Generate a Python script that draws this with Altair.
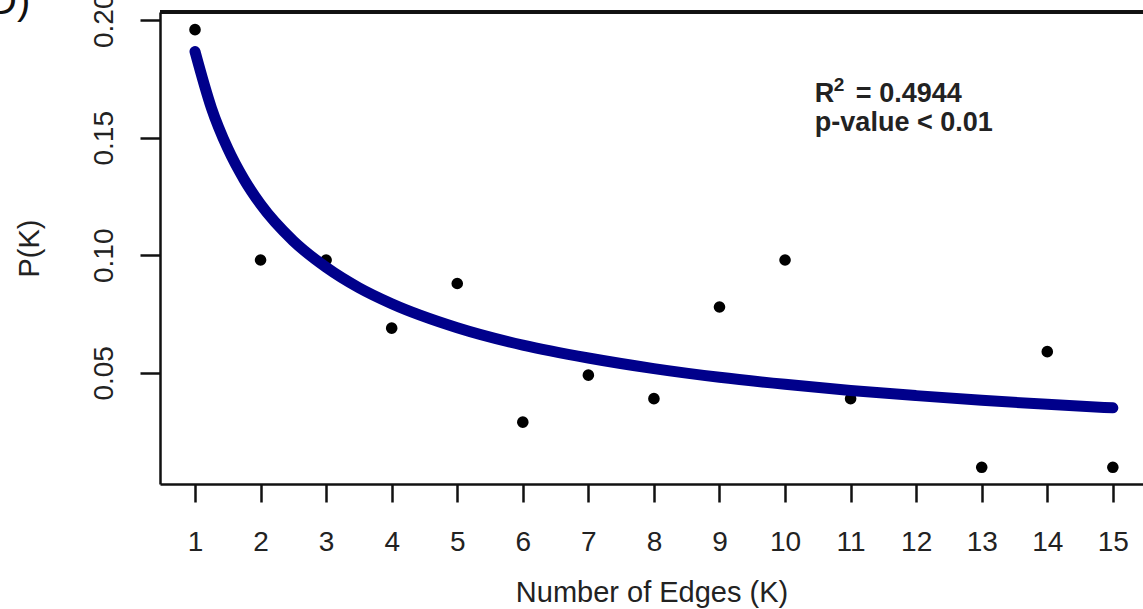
import altair as alt
import pandas as pd

# observed points
k_vals = [1, 2, 3, 4, 5, 6, 7, 8, 9, 10, 11, 13, 14, 15]
p_vals = [0.196, 0.098, 0.098, 0.069, 0.088, 0.029, 0.049, 0.039, 0.078, 0.098, 0.039, 0.0098, 0.059, 0.0098]

# fitted curve
curve_k = [1, 1.25, 1.5, 1.75, 2, 2.5, 3, 3.5, 4, 5, 6, 7, 8, 9, 10, 11, 12, 13, 14, 15]
curve_p = [0.1867, 0.1627, 0.1454, 0.1322, 0.1217, 0.1061, 0.0949, 0.0862, 0.0794, 0.0692,
           0.0618, 0.0563, 0.0518, 0.0481, 0.0451, 0.0425, 0.0403, 0.0383, 0.0366, 0.0351]

x_ticks = list(range(1, 16))
y_ticks = [0.05, 0.10, 0.15, 0.20]

# annotation (R² = 0.4944 / p-value < 0.01)
ann_k = [10.455]
ann_p1 = [0.165]
ann_p2 = [0.1527]

FONT = "Liberation Sans"
xs = alt.Scale(domain=[0.466, 15.46], nice=False, zero=False)
ys = alt.Scale(domain=[0.0027, 0.2035], nice=False, zero=False)

pts = pd.DataFrame({"K": k_vals, "P": p_vals})
crv = pd.DataFrame({"K": curve_k, "P": curve_p})

x_axis = alt.Axis(values=x_ticks, title="Number of Edges (K)", grid=False,
                  domainColor="#111", domainWidth=2.5, tickColor="#111", tickWidth=2.5,
                  tickSize=18, labelFontSize=28, labelFont=FONT, labelColor="#222",
                  labelPadding=26, labelFlush=False, titleFont=FONT, titleFontSize=29,
                  titleFontWeight="normal", titleColor="#222", titlePadding=22, format="d")
y_axis = alt.Axis(values=y_ticks, title="P(K)", grid=False, format=".2f",
                  domainColor="#111", domainWidth=2.5, tickColor="#111", tickWidth=2.5,
                  tickSize=20, labelFontSize=28, labelFont=FONT, labelColor="#222",
                  labelAngle=-90, labelAlign="center", labelBaseline="bottom",
                  labelPadding=22, labelFlush=False, titleFont=FONT, titleFontSize=29,
                  titleFontWeight="normal", titleColor="#222", titlePadding=46)

points = alt.Chart(pts).mark_circle(size=135, color="black", opacity=1).encode(
    x=alt.X("K:Q", scale=xs, axis=x_axis),
    y=alt.Y("P:Q", scale=ys, axis=y_axis),
)

curve = alt.Chart(crv).mark_line(color="#00008B", strokeWidth=11, strokeCap="round",
                                 interpolate="monotone").encode(
    x=alt.X("K:Q", scale=xs),
    y=alt.Y("P:Q", scale=ys),
)

a1 = pd.DataFrame({"K": ann_k, "P": ann_p1})
a2 = pd.DataFrame({"K": ann_k, "P": ann_p2})
txt = dict(align="left", baseline="alphabetic", font=FONT, fontWeight="bold", color="#222")
r_txt = alt.Chart(a1).mark_text(fontSize=27, text="R", **txt).encode(
    x=alt.X("K:Q", scale=xs), y=alt.Y("P:Q", scale=ys))
sup_txt = alt.Chart(a1).mark_text(fontSize=19, text="2", dx=19, dy=-11, **txt).encode(
    x=alt.X("K:Q", scale=xs), y=alt.Y("P:Q", scale=ys))
eq_txt = alt.Chart(a1).mark_text(fontSize=27, text="= 0.4944", dx=41, **txt).encode(
    x=alt.X("K:Q", scale=xs), y=alt.Y("P:Q", scale=ys))
p_txt = alt.Chart(a2).mark_text(fontSize=27, text="p-value < 0.01", **txt).encode(
    x=alt.X("K:Q", scale=xs), y=alt.Y("P:Q", scale=ys))

top_rule = alt.Chart(pts).mark_rule(color="#111", strokeWidth=2.5).encode(
    x=alt.value(0), x2=alt.value(990), y=alt.value(0)
)

panel = alt.Chart(pd.DataFrame({"t": ["D)"]})).mark_text(
    align="left", baseline="alphabetic", font=FONT, fontSize=40, color="#111").encode(
    x=alt.value(-172), y=alt.value(2), text="t:N"
)

chart = alt.layer(points, curve, r_txt, sup_txt, eq_txt, p_txt, top_rule, panel).properties(
    width=983, height=472,
    padding={"left": 160, "top": 12, "right": 0, "bottom": 125},
    autosize=alt.AutoSizeParams(type="none"),
    background="white",
).configure_view(stroke=None)

chart.save("out.html", embed_options={"renderer": "svg", "actions": False})
